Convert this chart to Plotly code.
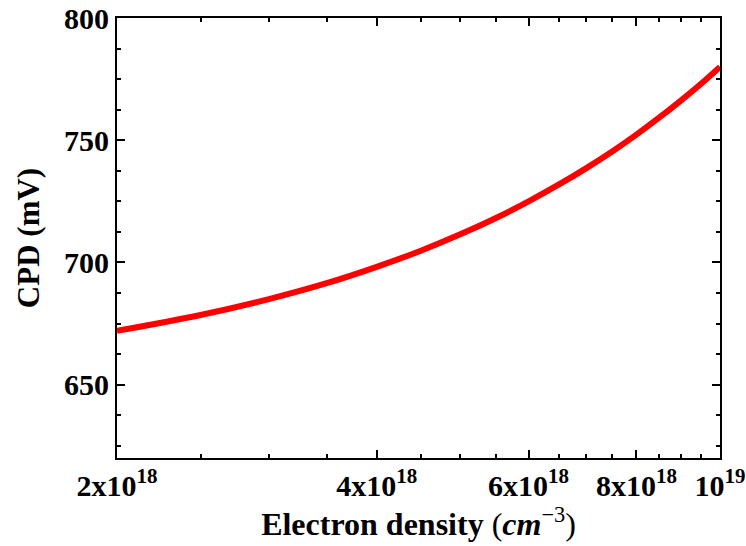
import plotly.graph_objects as go

# Data
electron_density = [2.0e18, 2.5e18, 3.0e18, 3.5e18, 4.0e18, 4.5e18, 5.0e18, 5.5e18, 6.0e18,
                    6.5e18, 7.0e18, 7.5e18, 8.0e18, 8.5e18, 9.0e18, 9.5e18, 1.0e19]
cpd_mv = [672, 678.5, 685, 691.5, 698.2, 704.8, 711.5, 718.2, 725,
          731.8, 738.6, 745.4, 752.3, 759.2, 766.1, 773, 780]

x_tick_vals = [2e18, 4e18, 6e18, 8e18, 1e19]
x_tick_text = ["2x10<sup>18</sup>", "4x10<sup>18</sup>", "6x10<sup>18</sup>",
               "8x10<sup>18</sup>", "10<sup>19</sup>"]
x_minor_vals = [2.5e18, 3e18, 3.5e18, 4.5e18, 5e18, 5.5e18, 6.5e18, 7e18, 7.5e18,
                8.5e18, 9e18, 9.5e18]

FONT = "Liberation Serif"

fig = go.Figure()
fig.add_trace(go.Scatter(
    x=electron_density, y=cpd_mv, mode="lines",
    line=dict(color="#ff0000", width=6, shape="spline", smoothing=1.0),
    showlegend=False, hoverinfo="skip",
))

axis_common = dict(
    showline=True, linecolor="black", linewidth=2, mirror="ticks",
    ticks="inside", ticklen=8, tickwidth=2, tickcolor="black",
    showgrid=False, zeroline=False, automargin=False,
    tickfont=dict(family=FONT, size=30, color="black", weight="bold"),
)

fig.update_xaxes(
    type="log",
    range=[18.30103, 19.0],
    tickmode="array", tickvals=x_tick_vals, ticktext=x_tick_text,
    minor=dict(tickmode="array", tickvals=x_minor_vals, ticks="inside",
               ticklen=4, tickwidth=1.5, tickcolor="black", showgrid=False),
    title=dict(text="<b>Electron density</b> (<b><i>cm</i></b><sup>−3</sup>)",
               font=dict(family=FONT, size=32, color="black"), standoff=10),
    **axis_common,
)
fig.update_yaxes(
    range=[620, 800],
    tickmode="linear", tick0=650, dtick=50,
    minor=dict(dtick=12.5, tick0=600, ticks="inside", ticklen=4, tickwidth=1.5,
               tickcolor="black", showgrid=False),
    title=dict(text="CPD (mV)", font=dict(family=FONT, size=31, color="black", weight="bold"),
               standoff=15),
    **axis_common,
)

fig.update_layout(
    width=746, height=546,
    margin=dict(l=117, r=26, t=18, b=88),
    paper_bgcolor="white", plot_bgcolor="white",
)

fig.write_html(
    "out.html",
    config={"displayModeBar": False},
    post_script="document.body.style.margin='0';document.body.style.overflow='hidden';",
)
